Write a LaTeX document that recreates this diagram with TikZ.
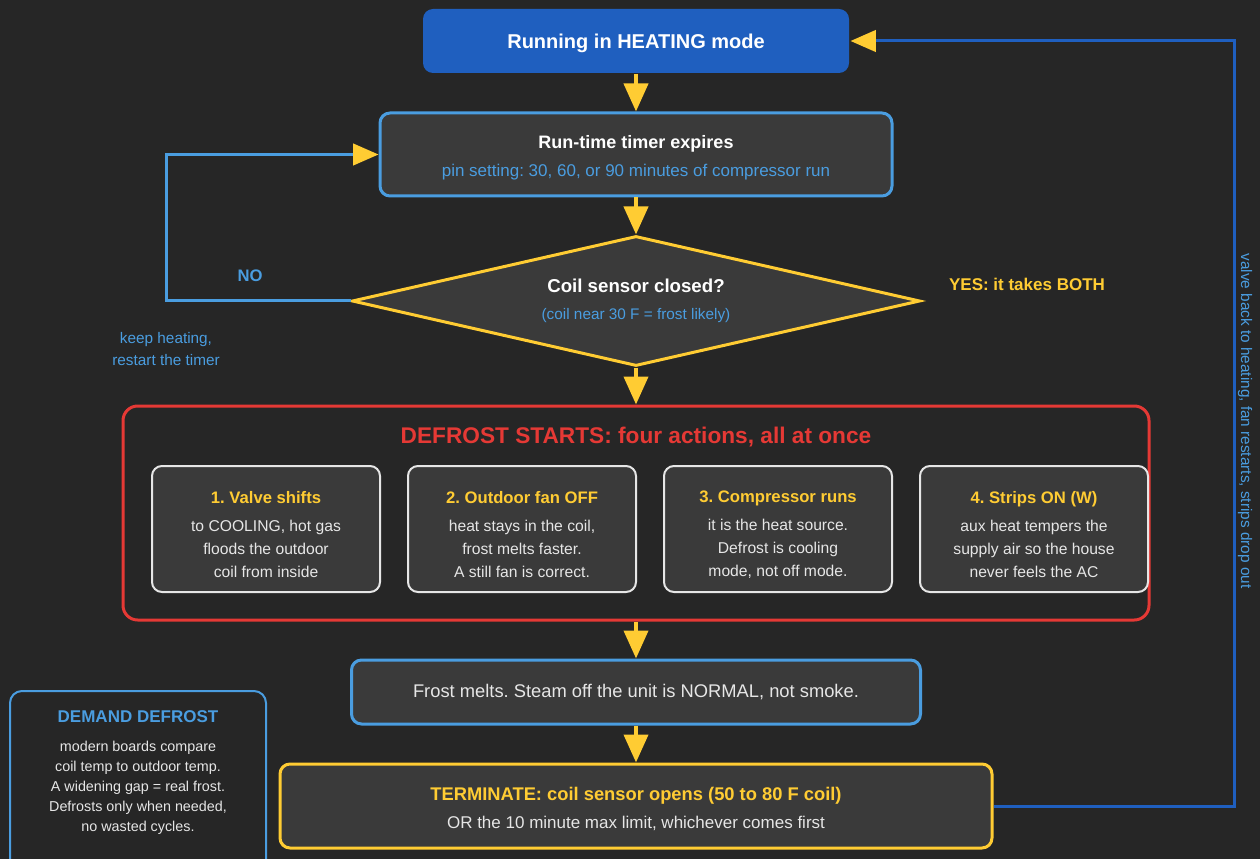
\documentclass[tikz,border=0pt]{standalone}
\usepackage{fontspec}
\setmainfont{Liberation Sans}
\usetikzlibrary{arrows.meta,shapes.geometric}
\definecolor{bgdark}{HTML}{262626}
\definecolor{boxgray}{HTML}{3A3A3A}
\definecolor{runblue}{HTML}{1F5FBF}
\definecolor{lineblue}{HTML}{4A9DE0}
\definecolor{accyellow}{HTML}{FFCC33}
\definecolor{alertred}{HTML}{E53935}
\definecolor{softwhite}{HTML}{E6E6E6}

\begin{document}
\frenchspacing
\begin{tikzpicture}[x=0.75pt,y=-0.75pt]
	\tikzstyle{box}=[draw, line width=2.25pt, rounded corners=7.5pt, fill=boxgray, align=center, text=softwhite, inner sep=0pt]
	\tikzstyle{flow}=[draw=accyellow, line width=3pt, -{Triangle[length=21pt,width=18pt]}]
	\tikzstyle{backline}=[line width=2.25pt, -{Triangle[length=19pt,width=16pt,color=accyellow]}]
	\tikzstyle{action}=[box, draw=softwhite, line width=1.5pt, minimum width=171pt, minimum height=94.5pt]
	\tikzstyle{action text}=[align=center, text=softwhite, font=\fontsize{11.75}{17.25}\selectfont]
	\tikzstyle{note}=[align=center, text=lineblue]
	
	% Page size and background
	\useasboundingbox (0,0) rectangle (1260,859);
	\fill[bgdark] (0,0) rectangle (1260,859);
	
	% Draw the main column
	\node[box, draw=none, fill=runblue, minimum width=319.5pt, minimum height=48pt] (run) at (636,41) {};
	\node[text=white, font=\fontsize{15}{18}\selectfont\bfseries] (run-text) at (636,43) {Running in HEATING mode};
	\node[box, draw=lineblue, minimum width=384pt, minimum height=62.25pt] (timer) at (636,154.5) {};
	\node[align=center, font=\fontsize{12.75}{15}\selectfont] (timer-text) at (636,157.5)
	{{\fontsize{13.5}{15}\selectfont\bfseries\color{white}Run-time timer expires}\\[6pt]\textcolor{lineblue}{pin setting: 30, 60, or 90 minutes of compressor run}};
	\node[diamond, draw=accyellow, fill=boxgray, line width=2.25pt, minimum width=426pt, minimum height=97.5pt, inner sep=0pt] (coil) at (636,301) {};
	\node[align=center, font=\fontsize{11.5}{13}\selectfont] (coil-text) at (636,301)
	{{\fontsize{14}{15}\selectfont\bfseries\color{white}Coil sensor closed?}\\[7pt]\textcolor{lineblue}{(coil near 30 F = frost likely)}};
	
	% Draw the defrost block with its four actions
	\node[draw=alertred, fill=bgdark, line width=2.25pt, rounded corners=11pt, minimum width=769.5pt, minimum height=160.5pt] (defrost) at (636,513) {};
	\node[text=alertred, font=\fontsize{17}{18}\selectfont\bfseries] (defrost-title) at (636,437) {DEFROST STARTS: four actions, all at once};
	\foreach \name / \x / \head / \body in {
		1/266/{1. Valve shifts}/{to COOLING, hot gas\\floods the outdoor\\coil from inside},
		2/522/{2. Outdoor fan OFF}/{heat stays in the coil,\\frost melts faster.\\A still fan is correct.},
		3/778/{3. Compressor runs}/{it is the heat source.\\Defrost is cooling\\mode, not off mode.},
		4/1034/{4. Strips ON (W)}/{aux heat tempers the\\supply air so the house\\never feels the AC}}
	{
		\node[action] (A-\name) at (\x,529) {};
		\node[action text] (A-\name-text) at (\x,535) {{\fontsize{12.5}{17.25}\selectfont\bfseries\color{accyellow}\head}\\[3.75pt]\body};
	}
	
	\node[box, draw=lineblue, minimum width=426.75pt, minimum height=48pt, font=\fontsize{13.75}{15}\selectfont] (frost) at (636,692) {Frost melts. Steam off the unit is NORMAL, not smoke.};
	\node[box, draw=accyellow, minimum width=534pt, minimum height=63pt] (term) at (636,806) {};
	\node[align=center, text=softwhite, font=\fontsize{12.75}{15}\selectfont] (term-text) at (636,809)
	{{\fontsize{13.75}{15}\selectfont\bfseries\color{accyellow}TERMINATE: coil sensor opens (50 to 80 F coil)}\\[6pt]OR the 10 minute max limit, whichever comes first};
	
	% Side note on demand defrost
	\node[draw=lineblue, fill=bgdark, line width=1.5pt, rounded corners=9pt, minimum width=192pt, minimum height=142.5pt] (demand) at (138,786) {};
	\node[align=center, text=softwhite, font=\fontsize{10.75}{15}\selectfont] (demand-text) at (138,773)
	{{\fontsize{12.75}{15}\selectfont\bfseries\color{lineblue}DEMAND DEFROST}\\[6.75pt]modern boards compare\\coil temp to outdoor temp.\\A widening gap = real frost.\\Defrosts only when needed,\\no wasted cycles.};
	
	% Connect the steps
	\draw[flow] (run.south) -- (timer.north);
	\draw[flow] (timer.south) -- (coil.north);
	\draw[flow] (coil.south) -- (defrost.north);
	\draw[flow] (defrost.south) -- (frost.north);
	\draw[flow] (frost.south) -- (term.north);
	
	% The NO branch and the way back to heating
	\coordinate (nobend) at (166,301);
	\draw[backline, draw=lineblue] (coil.west) -- (nobend) |- (timer.west);
	\coordinate (backbend) at (1234,806);
	\draw[backline, draw=runblue] (term.east) -- (backbend) |- (run.east);
	
	% Annotate the branches
	\node[text=lineblue, font=\fontsize{12.5}{14}\selectfont\bfseries] (no-label) at (250,276) {NO};
	\node[note, font=\fontsize{11.5}{16.5}\selectfont] (no-note) at (166,349) {keep heating,\\restart the timer};
	\node[text=accyellow, font=\fontsize{12.75}{14}\selectfont\bfseries] (yes-label) at (1027,284) {YES: it takes BOTH};
	\node[rotate=-90, text=lineblue, font=\fontsize{11.5}{12}\selectfont] (back-note) at (1245,421) {valve back to heating, fan restarts, strips drop out};
\end{tikzpicture}
\end{document}
